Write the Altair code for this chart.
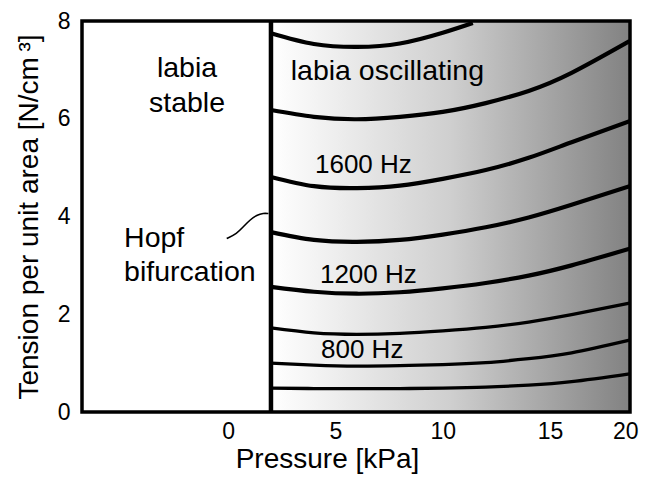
import altair as alt
import pandas as pd

# ---- data ----
xgrid = [2, 4, 6, 8, 10, 12, 14, 16, 18.7]
curve_top_x = [2, 4, 6, 8, 10, 11.4]
curve_top_y = [7.75, 7.53, 7.47, 7.54, 7.76, 7.96]
curves_y = [
    [6.18, 6.04, 5.99, 6.04, 6.14, 6.32, 6.57, 6.94, 7.59],
    [4.81, 4.62, 4.58, 4.63, 4.77, 4.95, 5.20, 5.52, 5.95],
    [3.68, 3.52, 3.48, 3.52, 3.63, 3.78, 3.98, 4.24, 4.62],
    [2.56, 2.46, 2.42, 2.45, 2.53, 2.64, 2.79, 3.00, 3.34],
    [1.72, 1.62, 1.59, 1.61, 1.66, 1.73, 1.84, 1.99, 2.23],
    [1.00, 0.96, 0.94, 0.95, 0.97, 1.01, 1.09, 1.21, 1.47],
    [0.49, 0.48, 0.48, 0.48, 0.49, 0.51, 0.55, 0.62, 0.78],
]
hopf_pressure = 2.0
x_domain = [-6.8, 18.72]
y_domain = [0, 8]
x_tick_values = [0, 5, 10, 15, 18.5]
x_tick_labels = ["0", "5", "10", "15", "20"]
y_tick_values = [0, 2, 4, 6, 8]

region_labels = ["labia oscillating", "labia", "stable", "Hopf", "bifurcation"]
region_x = [2.92, -1.91, -1.91, -4.84, -4.84]
region_y = [6.79, 6.86, 6.14, 3.38, 2.68]
region_align = ["left", "center", "center", "left", "left"]

freq_labels = ["1600 Hz", "1200 Hz", "800 Hz"]
freq_x = [4.05, 4.28, 4.33]
freq_y = [4.89, 2.64, 1.10]

connector_x = [-0.06, 0.41, 0.71, 1.02, 1.34, 1.65, 1.88]
connector_y = [3.55, 3.65, 3.79, 3.93, 4.03, 4.07, 4.06]

# ---- tables ----
rows = []
for i, (xv, yv) in enumerate(zip(curve_top_x, curve_top_y)):
    rows.append({"c": 0, "o": i, "p": xv, "t": yv})
for k, ys in enumerate(curves_y):
    for i, (xv, yv) in enumerate(zip(xgrid, ys)):
        rows.append({"c": k + 1, "o": i, "p": xv, "t": yv})
curves_df = pd.DataFrame(rows)
curves_df["w"] = curves_df["c"].apply(lambda c: "thin" if c >= 5 else "thick")

xs = alt.Scale(domain=x_domain, nice=False, zero=False)
ys = alt.Scale(domain=y_domain, nice=False, zero=False)

FONT = "Liberation Sans"
tick_map = "{" + ",".join(f"'{v}':'{l}'" for v, l in zip(x_tick_values, x_tick_labels)) + "}"

x_axis = alt.Axis(
    title="Pressure [kPa]", values=x_tick_values, grid=False, ticks=False, tickSize=0,
    domain=False, labelFontSize=23, labelPadding=8, labelColor="black",
    labelExpr=f"{tick_map}[datum.value + ''] || datum.label", labelFlush=False,
    titleFontSize=28, titleFontWeight="normal", titleColor="black",
    titleX=245, titleY=55, titleBaseline="alphabetic", titleAlign="center",
)
y_axis = alt.Axis(
    title="Tension per unit area [N/cm\u2009\u00b3]", values=y_tick_values, grid=False, ticks=False,
    tickSize=0, domain=False, labelFontSize=23, labelPadding=12, labelColor="black",
    labelFlush=False, titleFontSize=28, titleFontWeight="normal", titleColor="black",
    titleX=-45, titleY=195.5, titleAngle=270, titleBaseline="alphabetic", titleAlign="center",
)

bg_df = pd.DataFrame({"x": [hopf_pressure], "x2": [x_domain[1]], "y": [y_domain[0]], "y2": [y_domain[1]]})
gradient = alt.Chart(bg_df).mark_rect(
    color=alt.Gradient(
        gradient="linear", x1=0, y1=0, x2=1, y2=0,
        stops=[alt.GradientStop(color="#ffffff", offset=0),
               alt.GradientStop(color="#cfcfcf", offset=0.5),
               alt.GradientStop(color="#828282", offset=1)],
    )
).encode(
    x=alt.X("x:Q", scale=xs, axis=x_axis), x2="x2:Q",
    y=alt.Y("y:Q", scale=ys, axis=y_axis), y2="y2:Q",
)

curves = alt.Chart(curves_df).mark_line(color="black", interpolate="natural", clip=True).encode(
    x=alt.X("p:Q", scale=xs), y=alt.Y("t:Q", scale=ys),
    detail="c:N", order="o:Q",
    strokeWidth=alt.StrokeWidth("w:N", scale=alt.Scale(domain=["thick", "thin"], range=[4.2, 3.3]), legend=None),
)

vline_df = pd.DataFrame({"p": [hopf_pressure], "t0": [y_domain[0]], "t1": [y_domain[1]]})
vline = alt.Chart(vline_df).mark_rule(color="black", strokeWidth=4.5).encode(
    x=alt.X("p:Q", scale=xs), y=alt.Y("t0:Q", scale=ys), y2="t1:Q"
)

conn_df = pd.DataFrame({"p": connector_x, "t": connector_y, "o": list(range(len(connector_x)))})
connector = alt.Chart(conn_df).mark_line(color="black", strokeWidth=1.6, interpolate="basis").encode(
    x=alt.X("p:Q", scale=xs), y=alt.Y("t:Q", scale=ys), order="o:Q"
)

reg_df = pd.DataFrame({"label": region_labels, "p": region_x, "t": region_y, "a": region_align})
reg_left = alt.Chart(reg_df[reg_df.a == "left"]).mark_text(
    align="left", baseline="alphabetic", fontSize=28.5, font=FONT, color="black"
).encode(x=alt.X("p:Q", scale=xs), y=alt.Y("t:Q", scale=ys), text="label:N")
reg_center = alt.Chart(reg_df[reg_df.a == "center"]).mark_text(
    align="center", baseline="alphabetic", fontSize=28.5, font=FONT, color="black"
).encode(x=alt.X("p:Q", scale=xs), y=alt.Y("t:Q", scale=ys), text="label:N")

freq_df = pd.DataFrame({"label": freq_labels, "p": freq_x, "t": freq_y})
freq = alt.Chart(freq_df).mark_text(
    align="left", baseline="alphabetic", fontSize=26, font=FONT, color="black"
).encode(x=alt.X("p:Q", scale=xs), y=alt.Y("t:Q", scale=ys), text="label:N")

frame = alt.Chart(bg_df).mark_rect(filled=False, stroke="black", strokeWidth=3.5).encode(
    x=alt.value(0), x2=alt.value(548), y=alt.value(0), y2=alt.value(391)
)

chart = alt.layer(gradient, curves, vline, connector, reg_left, reg_center, freq, frame).properties(
    width=548, height=391,
    autosize=alt.AutoSizeParams(type="none"),
    padding={"left": 74, "top": 13, "right": 19, "bottom": 66},
).configure_view(stroke=None).configure_axis(labelFont=FONT, titleFont=FONT).configure(background="white")

chart.save("out.html", embed_options={"renderer": "svg", "actions": False})
